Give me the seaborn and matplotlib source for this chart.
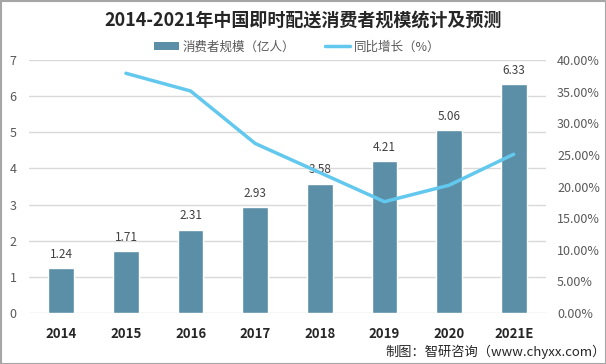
import matplotlib
matplotlib.use("Agg")
import matplotlib.pyplot as plt
import seaborn as sns
import pandas as pd
import numpy as np
from matplotlib.patches import Patch, Rectangle
from matplotlib.lines import Line2D
from matplotlib.ticker import FuncFormatter

years = ["2014", "2015", "2016", "2017", "2018", "2019", "2020", "2021E"]
consumers = [1.24, 1.71, 2.31, 2.93, 3.58, 4.21, 5.06, 6.33]
growth = [None, 37.9, 35.1, 26.8, 22.2, 17.6, 20.2, 25.1]
left_ticks = [0, 1, 2, 3, 4, 5, 6, 7]
right_ticks = [0, 5, 10, 15, 20, 25, 30, 35, 40]

sns.set_theme(style="white")
plt.rcParams['font.family'] = ['Noto Sans CJK SC', 'DejaVu Sans']

bar_color = "#5B8FA7"
line_color = "#62C8EE"
grid_color = "#D9D9D9"
tick_color = "#595959"

df = pd.DataFrame({"year": years, "consumers": consumers,
                   "growth": [np.nan if g is None else g for g in growth]})
df["idx"] = np.arange(len(years))

fig = plt.figure(figsize=(6.06, 3.64), dpi=100)
ax = fig.add_axes([29/606, 1-313/364, (546-29)/606, (313-60)/364])

sns.barplot(data=df, x="year", y="consumers", color=bar_color, width=0.4,
            saturation=1, ax=ax, zorder=3)
ax.set_ylim(0, 7)
ax.set_xlim(-0.5, len(years)-0.5)
ax.set_yticks(left_ticks)
ax.yaxis.grid(True, color=grid_color, linewidth=1, zorder=0)
ax.set_axisbelow(True)
for s in ax.spines.values():
    s.set_visible(False)
ax.set_xlabel("")
ax.set_ylabel("")
ax.tick_params(axis="y", length=0, labelsize=9, labelcolor=tick_color, pad=9)
ax.tick_params(axis="x", length=0, labelsize=9.5, labelcolor="#262626", pad=10)
for lbl in ax.get_xticklabels():
    lbl.set_fontweight("bold")

for i, v in enumerate(consumers):
    ax.text(i, v + 0.2, f"{v:.2f}", ha="center", va="bottom", fontsize=8.5, color="#404040")

ax2 = ax.twinx()
sns.lineplot(data=df, x="idx", y="growth", color=line_color, linewidth=2.5, ax=ax2)
ax2.set_ylim(0, 40)
ax2.set_xlim(-0.5, len(years)-0.5)
ax2.set_yticks(right_ticks)
ax2.yaxis.set_major_formatter(FuncFormatter(lambda v, p: f"{v:.2f}%"))
ax2.set_ylabel("")
ax2.set_xlabel("")
for s in ax2.spines.values():
    s.set_visible(False)
ax2.tick_params(axis="y", length=0, labelsize=9, labelcolor=tick_color, pad=8)

fig.text(0.5, 1-20/364, "2014-2021年中国即时配送消费者规模统计及预测", ha="center", va="center",
         fontsize=13, fontweight="bold", color="#262626")

handles = [Patch(facecolor=bar_color, edgecolor="none"),
           Line2D([0], [0], color=line_color, linewidth=2.5)]
fig.legend(handles, ["消费者规模（亿人）", "同比增长（%）"], loc="center",
           bbox_to_anchor=(0.49, 1-47/364), ncol=2, frameon=False, fontsize=9,
           handlelength=2.0, handleheight=0.6, columnspacing=2.4, handletextpad=0.3,
           labelcolor="#595959")

fig.text(606/606, 1-352/364, "制图：智研咨询（www.chyxx.com）", ha="right", va="center",
         fontsize=9.5, color="#262626")

fig.patches.append(Rectangle((0.5/606, 0.5/364), 1-1/606, 1-1/364, transform=fig.transFigure,
                             fill=False, edgecolor="#A6A6A6", linewidth=1.5))

fig.savefig("out.png", dpi=100)
